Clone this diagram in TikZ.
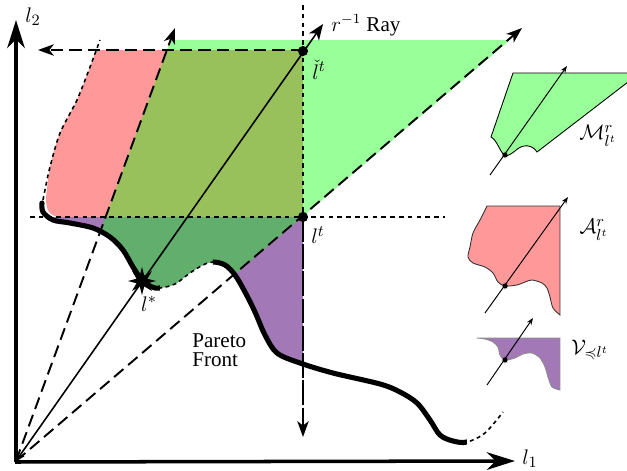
\documentclass[tikz,border=0pt]{standalone}
\usepackage{amsmath,amssymb}
\usepackage{fontspec}
\setmainfont{Liberation Serif}
\usetikzlibrary{arrows.meta,shapes.geometric}
\definecolor{pinkA}{RGB}{255,153,153}
\definecolor{purpV}{RGB}{162,120,182}
\definecolor{greenM}{RGB}{153,255,153}
\tikzset{
  dashline/.style={line width=1.1pt, dash pattern=on 7pt off 3.5pt},
  dotline/.style={line width=0.9pt, dash pattern=on 2.6pt off 2.4pt},
  tipS/.style={-{Stealth[length=9pt,width=6.5pt,inset=2.5pt]}},
  axis/.style={line width=2pt, -{Stealth[length=16pt,width=10pt,inset=5pt]}},
  dotmark/.style={circle, fill=black, inner sep=0pt, minimum size=5.8pt},
  smallstar/.style={star, star points=8, star point ratio=2, fill=black, inner sep=0pt, minimum size=4pt},
  icon/.style={line width=0.5pt},
  iconarrow/.style={line width=0.55pt, -{Stealth[length=4pt,width=3pt]}},
  lab/.style={font=\fontsize{13}{15}\selectfont, inner sep=0pt},
  txt/.style={font=\fontsize{12}{13}\selectfont, inner sep=0pt}
}
\begin{document}
\begin{tikzpicture}[x=0.02cm,y=-0.02cm]
\useasboundingbox (0,0) rectangle (627,471);
% key points
\coordinate (O) at (16,461);
\coordinate (steepTip) at (175,28);
\coordinate (shallowTip) at (522,28);
\coordinate (rayTip) at (323,24);
\coordinate (leftTip) at (38,50);
\coordinate (downTip) at (303,437);
\coordinate (vtop) at (303,5);
\coordinate (hl) at (30,217);
\coordinate (hr) at (445,217);
\coordinate (y2tip) at (16,20);
\coordinate (x1tip) at (515,461);

% ---------- regions ----------
\fill[pinkA] (96,50) -- (303,50) -- (303,217) -- (60,217)
  .. controls (49,216) and (46,210) .. (46,198)
  -- plot[smooth] coordinates {(46,198) (50,167) (60,133) (77,100) (90,67) (96,50)} -- cycle;
\begin{scope}
  \clip (30,0) -- (30,203) -- plot[smooth,tension=0.55] coordinates {(42,203) (43,212) (53,220) (70,223) (93,228) (110,237) (123,250) (133,267) (142,280) (152,287) (160,288) (175,284) (190,273) (203,265) (213,262) (225,265) (235,275) (245,292) (255,312) (265,335) (277,353) (300,363) (333,373) (380,384) (400,392) (417,403) (430,420) (440,435) (453,441) (467,442) (485,433) (503,412)} -- (627,412) -- (627,0) -- cycle;
  \fill[purpV] (30,217) rectangle (303,471);
  \fill[green, fill opacity=0.4] (O) -- (170.6,40) -- (510,40) -- cycle;
\end{scope}

% ---------- guide lines ----------
\draw[dotline] (vtop) -- (303,217);
\draw[dotline] (hl) -- (hr);
\draw[line width=1pt, dash pattern=on 14pt off 1.5pt, tipS] (303,217) -- (downTip);
\draw[dashline, tipS] (303,50) -- (leftTip);
\draw[dashline, tipS] (O) -- (steepTip);
\draw[dashline, tipS] (O) -- (shallowTip);
\draw[line width=0.9pt, dash pattern=on 2.2pt off 2pt] plot[smooth] coordinates {(43,200) (46,185) (50,167) (60,133) (77,100) (90,67) (100,40)};

% ---------- Pareto front ----------
\begin{scope}
  \clip (0,0) rectangle (160,471) (213,0) rectangle (467,471);
  \draw[line width=2.9pt, line cap=round] plot[smooth,tension=0.55] coordinates {(42,203) (43,212) (53,220) (70,223) (93,228) (110,237) (123,250) (133,267) (142,280) (152,287) (160,288) (175,284) (190,273) (203,265) (213,262) (225,265) (235,275) (245,292) (255,312) (265,335) (277,353) (300,363) (333,373) (380,384) (400,392) (417,403) (430,420) (440,435) (453,441) (467,442) (485,433) (503,412)};
\end{scope}
\begin{scope}
  \clip (160,0) rectangle (213,471) (467,0) rectangle (627,471);
  \draw[line width=0.9pt, dash pattern=on 2.2pt off 2pt] plot[smooth,tension=0.55] coordinates {(42,203) (43,212) (53,220) (70,223) (93,228) (110,237) (123,250) (133,267) (142,280) (152,287) (160,288) (175,284) (190,273) (203,265) (213,262) (225,265) (235,275) (245,292) (255,312) (265,335) (277,353) (300,363) (333,373) (380,384) (400,392) (417,403) (430,420) (440,435) (453,441) (467,442) (485,433) (503,412)};
\end{scope}

% ---------- ray ----------
\draw[line width=0.9pt, {Straight Barb[length=4pt,width=4pt]}-{Stealth[length=9pt,width=7pt,inset=2.5pt]}] (O) -- (rayTip);

% ---------- axes ----------
\draw[axis] (16,462) -- (y2tip);
\draw[axis] (15,462) -- (x1tip);

% ---------- points ----------
\node[dotmark] (lc) at (303,51) {};
\node[dotmark] (lt) at (303,217) {};
\node[star, star points=8, star point ratio=2.4, fill=black, inner sep=0pt, minimum size=16pt] (ls) at (142,281) {};

% ---------- labels ----------
\node[lab] (l2lab) at (33,17) {$l_2$};
\node[lab] (l1lab) at (530,459) {$l_1$};
\node[txt, anchor=west] (raylab) at (331,25) {$r^{-1}$ Ray};
\node[lab] (lclab) at (319,70) {$\check{l}^t$};
\node[lab] (ltlab) at (318,235) {$l^t$};
\node[lab] (lslab) at (149,304) {$l^{*}$};
\node[txt, align=left, anchor=west] (pf) at (192,350) {Pareto\\[-2pt]Front};

% ---------- icon M ----------
\filldraw[icon, fill=greenM] (513,73) -- (628,73) -- (628,82) -- (537,152)
  .. controls (533,145) and (523,143) .. (515,151)
  .. controls (511,154) and (508,156) .. (505,156)
  .. controls (500,152) and (497,140) .. (491,137) -- cycle;
\coordinate (mA) at (490,175);
\coordinate (mB) at (567,66);
\draw[iconarrow] (mA) -- (mB);
\node[smallstar] (mstar) at (505,155) {};
\node[lab] (mlab) at (598,136) {$\mathcal{M}^{r}_{l^t}$};

% ---------- icon A ----------
\filldraw[icon, fill=pinkA, draw=black!80] (487,206) -- (560,206) -- plot[smooth] coordinates {(560,315) (553,308) (550,297) (547,288) (542,283) (532,280) (525,282) (517,285) (505,286) (498,282) (493,273) (485,267) (473,263) (468,257) (470,247) (473,233) (480,220) (487,206)} -- cycle;
\coordinate (aA) at (485,313);
\coordinate (aB) at (568,197);
\draw[iconarrow] (aA) -- (aB);
\node[smallstar] (astar) at (505,286) {};
\node[lab] (alab) at (594,230) {$\mathcal{A}^{r}_{l^t}$};

% ---------- icon V ----------
\filldraw[icon, fill=purpV, draw=black!45] (477,338) -- (560,338) -- plot[smooth] coordinates {(560,390) (552,387) (548,377) (545,367) (540,358) (532,353) (523,354) (515,358) (505,360) (500,355) (498,347) (493,342) (485,339) (477,338)} -- cycle;
\coordinate (vA) at (487,385);
\coordinate (vB) at (533,318);
\draw[iconarrow] (vA) -- (vB);
\node[smallstar] (vstar) at (505,360) {};
\node[lab] (vlab) at (590,350) {$\mathcal{V}_{\preccurlyeq l^t}$};
\end{tikzpicture}
\end{document}
